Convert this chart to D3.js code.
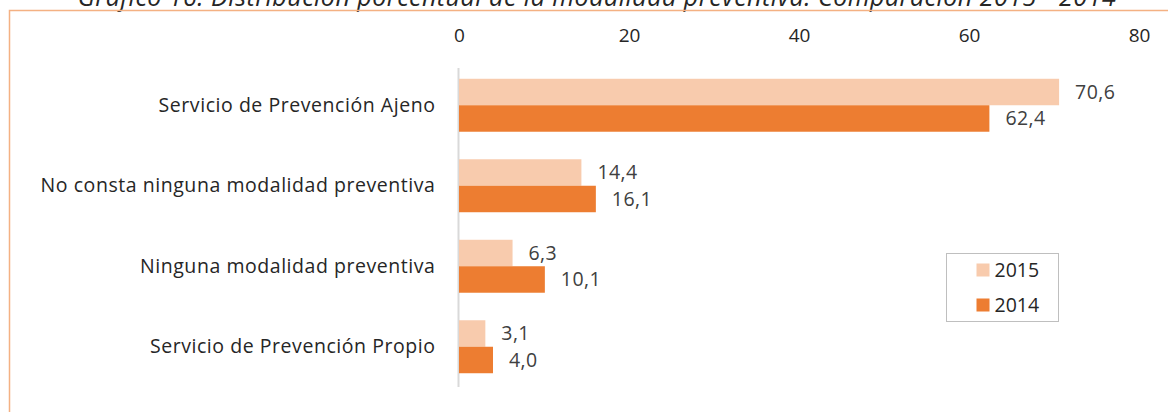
<!DOCTYPE html>
<html>
<head>
<meta charset="utf-8">
<script src="https://cdn.jsdelivr.net/npm/d3@7"></script>
<style>
    body { margin: 0; background: #fff; }
    svg { display: block; font-family: "Open Sans", sans-serif; }
</style>
</head>
<body>
<div id="chart"></div>
<script>

// categories top -> bottom
const categories = [
    "Servicio de Prevención Ajeno",
    "No consta ninguna modalidad preventiva",
    "Ninguna modalidad preventiva",
    "Servicio de Prevención Propio"
];
const years = ["2015", "2014"];
const values2015 = [70.6, 14.4, 6.3, 3.1];
const values2014 = [62.4, 16.1, 10.1, 4.0];
const xTicks = [0, 20, 40, 60, 80];

const colors = { "2015": "#F8CBAD", "2014": "#ED7D31" };

const width = 1168;
const height = 412;

const data = categories.map(function (c, i) {
    return { cat: c, "2015": values2015[i], "2014": values2014[i] };
});

const svg = d3.select("#chart")
    .append("svg")
    .attr("width", width)
    .attr("height", height);

// title, mostly cut off at top (as in the source)
svg.append("text")
    .attr("x", 597)
    .attr("y", 6)
    .attr("text-anchor", "middle")
    .style("font-style", "italic")
    .style("font-size", "25px")
    .style("letter-spacing", "0.5px")
    .attr("fill", "#262626")
    .text("Gráfico 16: Distribución porcentual de la modalidad preventiva. Comparación 2015 - 2014");

// chart frame
svg.append("rect")
    .attr("x", 9.5)
    .attr("y", 10.5)
    .attr("width", 1200)
    .attr("height", 500)
    .attr("fill", "none")
    .attr("stroke", "#F4B183")
    .attr("stroke-width", 1.5);

const xScale = d3.scaleLinear()
    .domain([0, 80])
    .range([459, 1139]);

const yScale = d3.scaleBand()
    .domain(categories)
    .range([65, 387])
    .paddingInner(0.342)
    .paddingOuter(0.171);

const ySub = d3.scaleBand()
    .domain(years)
    .range([0, yScale.bandwidth()]);

// top axis
const xAxis = svg.append("g")
    .attr("transform", "translate(0,42)")
    .call(d3.axisTop(xScale).tickValues(xTicks).tickSize(0).tickPadding(0));
xAxis.select(".domain").remove();
xAxis.selectAll("text")
    .style("font-family", "Open Sans, sans-serif")
    .style("font-size", "19px")
    .attr("fill", "#262626");

// category axis
const yAxis = svg.append("g")
    .attr("transform", "translate(458.5,0)")
    .call(d3.axisLeft(yScale).tickSize(0).tickPadding(23));
yAxis.select(".domain")
    .attr("stroke", "#D9D9D9")
    .attr("stroke-width", 2)
    .attr("d", "M0,68V387");
yAxis.selectAll("text")
    .style("font-family", "Open Sans, sans-serif")
    .style("font-size", "19.5px")
    .style("letter-spacing", "0.55px")
    .attr("fill", "#262626");

// bars
const groups = svg.selectAll(".grp")
    .data(data)
    .enter()
    .append("g")
    .attr("class", "grp")
    .attr("transform", function (d) { return `translate(0,${yScale(d.cat)})`; });

groups.selectAll("rect")
    .data(function (d) { return years.map(function (y) { return { year: y, v: d[y] }; }); })
    .enter()
    .append("rect")
    .attr("x", xScale(0))
    .attr("y", function (d) { return ySub(d.year); })
    .attr("width", function (d) { return xScale(d.v) - xScale(0); })
    .attr("height", ySub.bandwidth())
    .attr("fill", function (d) { return colors[d.year]; });

groups.selectAll(".lbl")
    .data(function (d) { return years.map(function (y) { return { year: y, v: d[y] }; }); })
    .enter()
    .append("text")
    .attr("class", "lbl")
    .attr("x", function (d) { return xScale(d.v) + 16; })
    .attr("y", function (d) { return ySub(d.year) + ySub.bandwidth() / 2; })
    .attr("dy", "0.35em")
    .style("font-size", "19.5px")
    .style("letter-spacing", "0.4px")
    .attr("fill", "#404040")
    .text(function (d) { return d3.format(".1f")(d.v).replace(".", ","); });

// legend
const legend = svg.append("g").attr("transform", "translate(946.5,253.5)");
legend.append("rect")
    .attr("width", 112)
    .attr("height", 68)
    .attr("fill", "#fff")
    .attr("stroke", "#BFBFBF");

years.forEach(function (y, i) {
    legend.append("rect")
        .attr("x", 30)
        .attr("y", 10 + i * 35)
        .attr("width", 13)
        .attr("height", 13)
        .attr("fill", colors[y]);
    legend.append("text")
        .attr("x", 48)
        .attr("y", 16.5 + i * 35)
        .attr("dy", "0.35em")
        .style("font-size", "19.5px")
        .attr("fill", "#262626")
        .text(y);
});

</script>
</body>
</html>
